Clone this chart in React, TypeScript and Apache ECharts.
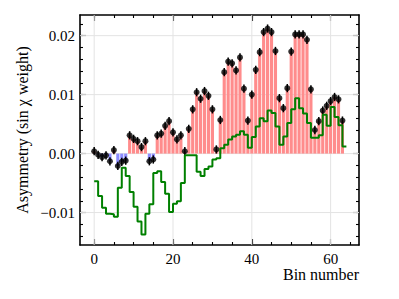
import React, { useEffect, useRef } from 'react';
import * as echarts from 'echarts';

const bins = [
  0, 1, 2, 3, 4, 5, 6, 7, 8, 9, 10, 11, 12, 13, 14, 15,
  16, 17, 18, 19, 20, 21, 22, 23, 24, 25, 26, 27, 28, 29, 30, 31,
  32, 33, 34, 35, 36, 37, 38, 39, 40, 41, 42, 43, 44, 45, 46, 47,
  48, 49, 50, 51, 52, 53, 54, 55, 56, 57, 58, 59, 60, 61, 62, 63,
];

// measured asymmetry (points + bars)
const asymmetry = [
  0.0004, -0.0002, -0.0006, -0.0003, -0.0013, 0.0006, -0.0021, -0.0014,
  -0.0012, 0.0031, 0.0025, 0.0021, 0.0011, 0.0021, -0.0013, -0.0010,
  0.0031, 0.0034, 0.0047, 0.0055, 0.0036, 0.0024, 0.0031, 0.0004,
  0.0042, 0.0075, 0.0104, 0.0093, 0.0106, 0.0098, 0.0075, 0.0007,
  0.0057, 0.0138, 0.0156, 0.0153, 0.0141, 0.0163, 0.0110, 0.0056,
  0.0100, 0.0142, 0.0172, 0.0206, 0.0212, 0.0206, 0.0174, 0.0094,
  0.0077, 0.0111, 0.0173, 0.0202, 0.0202, 0.0202, 0.0193, 0.0109,
  0.0040, 0.0055, 0.0073, 0.0081, 0.0089, 0.0096, 0.0092, 0.0056,
];

const asymmetryError = 0.0007;

// green step curve
const model = [
  -0.0047, -0.0072, -0.0092, -0.0102, -0.0103, -0.0107, -0.0058, -0.0024,
  -0.0038, -0.0065, -0.0090, -0.0115, -0.0137, -0.0102, -0.0086, -0.0033,
  -0.0030, -0.0048, -0.0068, -0.0099, -0.0085, -0.0081, -0.0050, -0.0003,
  -0.0003, -0.0003, -0.0031, -0.0038, -0.0026, -0.0022, -0.0010, -0.0008,
  0.0009, 0.0015, 0.0024, 0.0029, 0.0032, 0.0038, 0.0032, 0.0010,
  0.0028, 0.0046, 0.0060, 0.0055, 0.0073, 0.0069, 0.0046, 0.0015,
  0.0029, 0.0052, 0.0075, 0.0094, 0.0077, 0.0068, 0.0052, 0.0027,
  0.0027, 0.0031, 0.0066, 0.0047, 0.0079, 0.0062, 0.0048, 0.0012,
];

const xMajorTicks = [0, 20, 40, 60];
const xMinorTicks = [0, 5, 10, 15, 20, 25, 30, 35, 40, 45, 50, 55, 60, 65];
const yMajorTicks = [-0.01, 0, 0.01, 0.02];
const yMinorTicks = [
  -0.014, -0.012, -0.01, -0.008, -0.006, -0.004, -0.002, 0, 0.002, 0.004,
  0.006, 0.008, 0.01, 0.012, 0.014, 0.016, 0.018, 0.02, 0.022,
];

const X_MIN = -3.6;
const X_MAX = 67.2;
const Y_MIN = -0.0155;
const Y_MAX = 0.0235;

const FONT = 'Liberation Serif';

function fmtY(v: number) {
  const s = Math.abs(v).toFixed(2);
  return v < -1e-9 ? '\u2212' + s : s;
}

function makeX(position: 'top' | 'bottom', major: boolean, showLine: boolean, showLabel: boolean) {
  return {
    type: 'value',
    gridIndex: 0,
    position,
    min: X_MIN,
    max: X_MAX,
    axisLine: { show: showLine, onZero: false, lineStyle: { color: '#000', width: 1.6 } },
    axisTick: {
      show: true,
      inside: true,
      length: major ? 6 : 3,
      customValues: major ? xMajorTicks : xMinorTicks,
      lineStyle: { color: '#000', width: 1.1 },
    },
    axisLabel: {
      show: showLabel,
      customValues: xMajorTicks,
      color: '#000',
      fontFamily: FONT,
      fontSize: 15,
      margin: 6,
    },
    splitLine: { show: false },
  };
}

function makeY(position: 'left' | 'right', major: boolean, showLine: boolean, showLabel: boolean) {
  return {
    type: 'value',
    gridIndex: 0,
    position,
    min: Y_MIN,
    max: Y_MAX,
    axisLine: { show: showLine, onZero: false, lineStyle: { color: '#000', width: 1.6 } },
    axisTick: {
      show: true,
      inside: true,
      length: major ? 6 : 3,
      customValues: major ? yMajorTicks : yMinorTicks,
      lineStyle: { color: '#000', width: 1.1 },
    },
    axisLabel: {
      show: showLabel,
      customValues: yMajorTicks,
      formatter: (v: number) => fmtY(v),
      color: '#000',
      fontFamily: FONT,
      fontSize: 15,
      margin: 5,
    },
    splitLine: { show: false },
  };
}

export default function App() {
  const ref = useRef<HTMLDivElement>(null);

  useEffect(() => {
    if (!ref.current) return;
    const chart = echarts.init(ref.current, undefined, { renderer: 'svg' });

    const gridData: number[][] = [
      ...xMajorTicks.map((v) => [v, 0, 0]),
      ...yMajorTicks.map((v) => [0, v, 1]),
    ];
    const pointData = bins.map((b, i) => [b, asymmetry[i]]);
    const errData = bins.map((b, i) => [b, asymmetry[i], asymmetryError]);
    const stepData = bins.map((b, i) => [b, model[i]]);
    stepData.push([bins[bins.length - 1] + 1, model[model.length - 1]]);

    const option: any = {
      animation: false,
      backgroundColor: '#fff',
      grid: { left: 80, right: 40, top: 15, bottom: 54, containLabel: false },
      xAxis: [
        makeX('bottom', true, true, true),
        makeX('bottom', false, false, false),
        makeX('top', true, true, false),
        makeX('top', false, false, false),
      ],
      yAxis: [
        makeY('left', true, true, true),
        makeY('left', false, false, false),
        makeY('right', true, true, false),
        makeY('right', false, false, false),
      ],
      series: [
        {
          type: 'custom',
          name: 'grid',
          xAxisIndex: 0,
          yAxisIndex: 0,
          silent: true,
          encode: { x: 0, y: 1 },
          data: gridData,
          renderItem: (params: any, api: any) => {
            const cs = params.coordSys;
            const kind = api.value(2);
            if (kind === 0) {
              const p = api.coord([api.value(0), 0]);
              return {
                type: 'line',
                shape: { x1: p[0], y1: cs.y, x2: p[0], y2: cs.y + cs.height },
                style: { stroke: '#e3e3e3', lineWidth: 1 },
              };
            }
            const p = api.coord([0, api.value(1)]);
            return {
              type: 'line',
              shape: { x1: cs.x, y1: p[1], x2: cs.x + cs.width, y2: p[1] },
              style: { stroke: '#e3e3e3', lineWidth: 1 },
            };
          },
        },
        {
          type: 'custom',
          name: 'bars',
          xAxisIndex: 0,
          yAxisIndex: 0,
          encode: { x: 0, y: 1 },
          data: pointData,
          renderItem: (params: any, api: any) => {
            const x = api.value(0);
            const v = api.value(1);
            const p0 = api.coord([x - 0.4, 0]);
            const p1 = api.coord([x + 0.4, v]);
            return {
              type: 'rect',
              shape: {
                x: p0[0],
                y: Math.min(p0[1], p1[1]),
                width: p1[0] - p0[0],
                height: Math.abs(p1[1] - p0[1]),
              },
              style: { fill: v >= 0 ? '#ff8c8c' : '#8c8cff' },
            };
          },
        },
        {
          type: 'line',
          name: 'model',
          xAxisIndex: 0,
          yAxisIndex: 0,
          step: 'end',
          data: stepData,
          showSymbol: false,
          symbol: 'none',
          lineStyle: { color: '#008000', width: 2 },
        },
        {
          type: 'custom',
          name: 'errors',
          xAxisIndex: 0,
          yAxisIndex: 0,
          encode: { x: 0, y: 1 },
          data: errData,
          renderItem: (params: any, api: any) => {
            const x = api.value(0);
            const v = api.value(1);
            const e = api.value(2);
            const a = api.coord([x, v - e]);
            const b = api.coord([x, v + e]);
            return {
              type: 'line',
              shape: { x1: a[0], y1: a[1], x2: b[0], y2: b[1] },
              style: { stroke: '#000', lineWidth: 1.5 },
            };
          },
        },
        {
          type: 'scatter',
          name: 'points',
          xAxisIndex: 0,
          yAxisIndex: 0,
          data: pointData,
          symbol: 'circle',
          symbolSize: 6,
          itemStyle: { color: '#000' },
        },
      ],
      graphic: [
        {
          type: 'text',
          x: 359,
          y: 274,
          style: {
            text: 'Bin number',
            fontFamily: FONT,
            fontSize: 16,
            fill: '#000',
            align: 'right',
            verticalAlign: 'middle',
          },
        },
        {
          type: 'text',
          x: 22,
          y: 130,
          rotation: Math.PI / 2,
          style: {
            text: 'Asymmetry (sin \u03c7 weight)',
            fontFamily: FONT,
            fontSize: 16,
            fill: '#000',
            align: 'center',
            verticalAlign: 'middle',
          },
        },
      ],
    };

    chart.setOption(option);
    return () => chart.dispose();
  }, []);

  return (
    <div
      ref={ref}
      style={{ position: 'fixed', left: 0, top: 0, width: 399, height: 299, background: '#fff' }}
    />
  );
}
